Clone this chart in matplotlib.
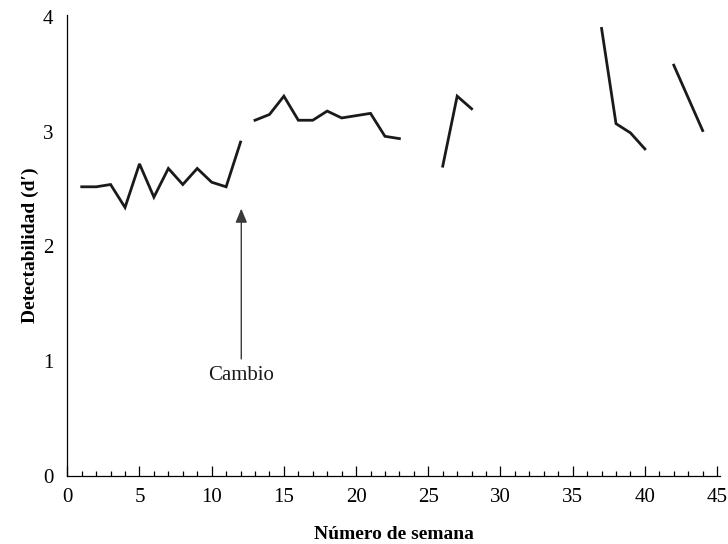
import matplotlib.pyplot as plt
import numpy as np

plt.rcParams['font.family'] = ['Liberation Serif', 'DejaVu Serif']

# weekly detectability (d') in separate runs of weeks
weeks_a = [1, 2, 3, 4, 5, 6, 7, 8, 9, 10, 11, 12]
dprime_a = [2.52, 2.52, 2.54, 2.34, 2.72, 2.43, 2.68, 2.54, 2.68, 2.56, 2.52, 2.91]

weeks_b = [13, 14, 15, 16, 17, 18, 19, 20, 21, 22, 23]
dprime_b = [3.10, 3.15, 3.31, 3.10, 3.10, 3.18, 3.12, 3.14, 3.16, 2.96, 2.94]

weeks_c = [26, 27, 28]
dprime_c = [2.70, 3.31, 3.20]

weeks_d = [37, 38, 39, 40]
dprime_d = [3.90, 3.07, 2.99, 2.85]

weeks_e = [42, 44]
dprime_e = [3.58, 3.01]

segments = [(weeks_a, dprime_a), (weeks_b, dprime_b), (weeks_c, dprime_c),
            (weeks_d, dprime_d), (weeks_e, dprime_e)]

change_week = 12.05

fig = plt.figure(figsize=(7.28, 5.44), dpi=100)
ax = fig.add_axes([0.0924, 0.125, 0.8966, 0.8474])

for wk, dp in segments:
    ax.plot(wk, dp, color='#1a1a1a', lw=2.0, solid_joinstyle='miter')

ax.annotate('', xy=(change_week, 2.33), xytext=(change_week, 1.02),
            arrowprops=dict(arrowstyle='-|>,head_width=0.25,head_length=0.6',
                            color='#3a3a3a', lw=1.0,
                            mutation_scale=14, shrinkA=0, shrinkB=0))
ax.text(change_week, 0.88, 'Cambio', ha='center', va='center', fontsize=15,
        color='#1a1a1a')

ax.set_xlim(0, 45.2)
ax.set_ylim(0, 4.017)
ax.set_xticks(np.arange(0, 46, 5))
ax.set_xticks(np.arange(0, 46, 1), minor=True)
ax.set_yticks([0, 1, 2, 3, 4])

ax.spines['top'].set_visible(False)
ax.spines['right'].set_visible(False)
ax.spines['left'].set_linewidth(0.9)
ax.spines['bottom'].set_linewidth(0.9)

ax.tick_params(axis='x', which='major', direction='in', length=7, width=0.9,
               labelsize=15, pad=9)
ax.tick_params(axis='x', which='minor', direction='in', length=3.5, width=0.9)
ax.tick_params(axis='y', length=0, labelsize=15, pad=10)

ax.set_xlabel('Número de semana', fontsize=14, fontweight='bold', labelpad=13)
ax.set_ylabel('Detectabilidad (d′)', fontsize=14, fontweight='bold', labelpad=3)

fig.savefig('out.png', dpi=100)
